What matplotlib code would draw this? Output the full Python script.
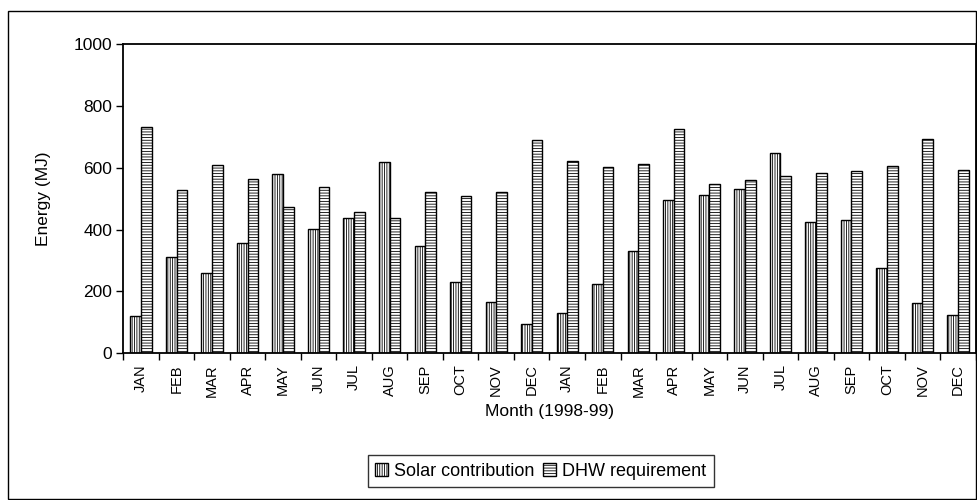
import numpy as np
import matplotlib
matplotlib.use('Agg')
import matplotlib.pyplot as plt
from matplotlib.patches import Rectangle

months = ['JAN', 'FEB', 'MAR', 'APR', 'MAY', 'JUN', 'JUL', 'AUG', 'SEP', 'OCT', 'NOV', 'DEC',
          'JAN', 'FEB', 'MAR', 'APR', 'MAY', 'JUN', 'JUL', 'AUG', 'SEP', 'OCT', 'NOV', 'DEC']
solar = [120, 310, 260, 356, 579, 401, 436, 617, 346, 230, 165, 94,
         129, 225, 331, 497, 512, 532, 648, 426, 431, 275, 164, 124]
dhw = [733, 527, 608, 562, 472, 538, 456, 436, 522, 508, 522, 689,
       623, 603, 613, 724, 546, 561, 572, 582, 588, 607, 694, 593]
yticks = [0, 200, 400, 600, 800, 1000]

plt.rcParams['font.family'] = ['Liberation Sans', 'DejaVu Sans']
plt.rcParams['hatch.linewidth'] = 0.6

fig = plt.figure(figsize=(9.78, 5.0), dpi=100)
ax = fig.add_axes([0.126, 0.2934, 0.8717, 0.6186])

x = np.arange(len(months))
w = 0.3
ax.bar(x - w / 2, solar, w, facecolor='white', edgecolor='black', linewidth=1.0,
       hatch='|||||||', label='Solar contribution')
ax.bar(x + w / 2, dhw, w, facecolor='white', edgecolor='black', linewidth=1.0,
       hatch='------', label='DHW requirement')

ax.set_xlim(-0.5, len(months) - 0.5)
ax.set_ylim(0, 1000)
ax.set_yticks(yticks)
ax.tick_params(axis='y', direction='out', length=5, width=1, labelsize=12.5, pad=3)

# ticks at the category boundaries, labels in the middle
ax.set_xticks(np.arange(len(months) + 1) - 0.5)
ax.set_xticklabels([])
ax.tick_params(axis='x', which='major', direction='out', length=5, width=1)
ax.set_xticks(x, minor=True)
ax.set_xticklabels(months, minor=True, rotation=90, fontsize=10.5)
ax.tick_params(axis='x', which='minor', length=0, pad=8)

for s in ax.spines.values():
    s.set_linewidth(1.3)

ax.set_ylabel('Energy (MJ)', fontsize=12.5, labelpad=16)
ax.set_xlabel('Month (1998-99)', fontsize=12.5, labelpad=5)

leg = fig.legend(loc='center', bbox_to_anchor=(0.553, 0.058), ncol=2, fontsize=13,
                 frameon=True, fancybox=False, edgecolor='black', handlelength=0.7,
                 handleheight=0.7, handletextpad=0.35, columnspacing=0.5,
                 borderpad=0.4)
leg.get_frame().set_linewidth(1.0)

# border round the whole chart
fig.patches.append(Rectangle((8 / 978, 0.002), 968 / 978, 0.976, transform=fig.transFigure,
                             fill=False, edgecolor='black', linewidth=1.0))

fig.savefig('out.png', dpi=100)
